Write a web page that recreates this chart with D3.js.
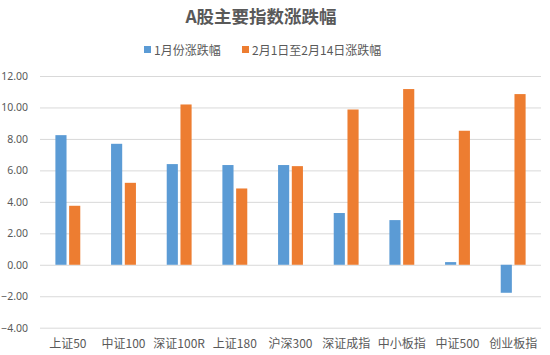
<!DOCTYPE html>
<html><head><meta charset="utf-8">
<script src="https://cdn.jsdelivr.net/npm/d3@7"></script>
<style>body{margin:0;background:#fff}svg{display:block;font-family:"Noto Sans CJK SC","DejaVu Sans",sans-serif}</style>
</head><body><svg id="c" width="550" height="355"></svg>
<script>
const categories = ["上证50","中证100","深证100R","上证180","沪深300","深证成指","中小板指","中证500","创业板指"];
const seriesNames = ["1月份涨跌幅","2月1日至2月14日涨跌幅"];
const janValues = [8.24, 7.69, 6.40, 6.34, 6.34, 3.29, 2.84, 0.17, -1.78];
const febValues = [3.75, 5.21, 10.19, 4.85, 6.27, 9.87, 11.17, 8.52, 10.85];
const yTicks = [-4, -2, 0, 2, 4, 6, 8, 10, 12];
const colors = ["#5B9BD5", "#ED7D31"];

const svg = d3.select("#c");
const m = {l: 40, r: 541, t: 76, b: 327.7};
const x = d3.scaleBand().domain(categories).range([m.l, m.r]).paddingInner(0).paddingOuter(0);
const y = d3.scaleLinear().domain([-4, 12]).range([m.b, m.t]);
const xs = d3.scaleBand().domain([0,1]).range([0, x.bandwidth()]).paddingInner(0.19).paddingOuter(1.12);

svg.append("text").attr("x", 261).attr("y", 23).attr("text-anchor", "middle")
  .attr("font-size", 17.5).attr("font-weight", "bold").attr("fill", "#595959").text("A股主要指数涨跌幅");

// grid
const yAxis = d3.axisLeft(y).tickValues(yTicks).tickSize(-(m.r - m.l)).tickFormat(d3.format(".2f"));
const g = svg.append("g").attr("transform", `translate(${m.l},0)`).call(yAxis);
g.select(".domain").remove();
g.selectAll(".tick line").attr("stroke", "#D9D9D9").attr("stroke-width", 1);
g.selectAll(".tick text").attr("x", -12).attr("fill", "#595959")
  .attr("font-family", "'Noto Sans', sans-serif").style("font-size","10.5px");

const data = [janValues, febValues];
data.forEach((vals, si) => {
  svg.append("g").selectAll("rect").data(vals).join("rect")
    .attr("x", (d, i) => x(categories[i]) + xs(si))
    .attr("width", xs.bandwidth())
    .attr("y", d => y(Math.max(0, d)))
    .attr("height", d => Math.abs(y(d) - y(0)))
    .attr("fill", colors[si]);
});

// x labels
const xAxis = d3.axisBottom(x).tickSize(0);
const gx = svg.append("g").attr("transform", `translate(0,${m.b})`).call(xAxis);
gx.select(".domain").remove();
gx.selectAll(".tick text").attr("dy", 0).attr("y", 20).attr("fill", "#595959").attr("font-size", 12)
  .attr("font-family", "'Noto Sans CJK SC', sans-serif");

// legend
const legendX = [144, 242];
seriesNames.forEach((n, i) => {
  svg.append("rect").attr("x", legendX[i]).attr("y", 46).attr("width", 7).attr("height", 7).attr("fill", colors[i]);
  svg.append("text").attr("x", legendX[i] + 10).attr("y", 54.5).attr("font-size", 12).attr("fill", "#595959").text(n);
});
</script></body></html>
